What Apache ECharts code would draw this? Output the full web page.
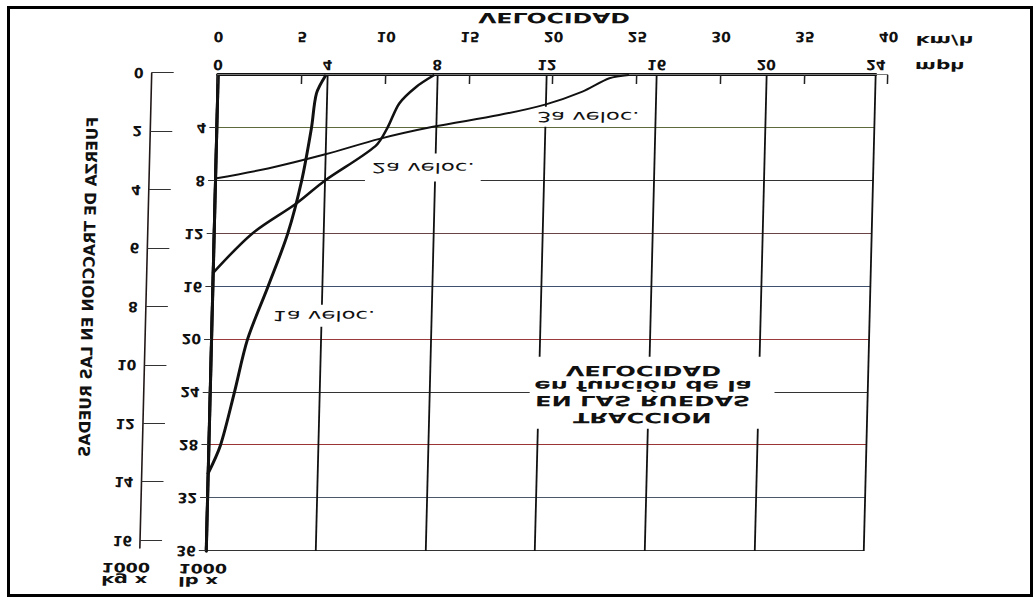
<!DOCTYPE html>
<html>
<head>
<meta charset="utf-8">
<title>Traccion en las ruedas</title>
<script src="https://cdn.jsdelivr.net/npm/echarts@6/dist/echarts.min.js"></script>
<style>
html, body { margin: 0; padding: 0; background: #fff; }
/* the scan is printed upside down and slightly sheared */
#chart { position: absolute; left: 0; top: 0; width: 1035px; height: 603px;
  transform: scaleY(-1) skewX(1.43deg); transform-origin: 50% 50%; }
#frame { position: absolute; left: 7px; top: 6px; width: 1026px; height: 591px;
  border: 3px solid #000; box-sizing: border-box; pointer-events: none; }
</style>
</head>
<body>
<div id="chart"></div>
<div id="frame"></div>
<script>
const mphTicks = [0, 4, 8, 12, 16, 20, 24];
const kmhTicks = [0, 5, 10, 15, 20, 25, 30, 35, 40];
const lbTicks = [0, 4, 8, 12, 16, 20, 24, 28, 32, 36];
const kgTicks = [0, 2, 4, 6, 8, 10, 12, 14, 16];
const gearNames = ['1a veloc.', '2a veloc.', '3a veloc.'];
// [mph, lb x 1000]
const gear1 = [[0, 30.2], [0.44, 28], [0.9, 24], [1.33, 20], [2.03, 16], [2.7, 12], [3.16, 8], [3.47, 4], [3.62, 1.4], [3.95, 0]];
const gear2 = [[0, 15], [1.4, 12], [3.0, 9.7], [4, 8], [5.82, 5.38], [6.24, 4], [6.65, 2.15], [7.25, 0.9], [7.9, 0]];
const gear3 = [[0, 7.83], [1.92, 7.07], [4, 6.0], [5.96, 4.83], [7.9, 3.92], [10.3, 3.03], [12, 2.22], [13.32, 1.26], [14.29, 0.25], [15, 0]];
const titleLines = ['TRACCION', 'EN LAS RUEDAS', 'en función de la', 'VELOCIDAD'];

const FONT = 'DejaVu Sans';
const INK = '#111';
const last = a => a[a.length - 1];
const step = a => a[1] - a[0];

const chart = echarts.init(document.getElementById('chart'), null, { renderer: 'svg' });

const tickLabel = { fontFamily: FONT, fontWeight: 'bold', fontSize: 14, color: INK };
const hidden = { show: false };

const option = {
    animation: false,
    backgroundColor: '#fff',
    grid: [
        { left: 212, top: 52, width: 658, height: 476 },  // main plot, mph / lb
        { left: 212, top: 52, width: 670, height: 476 },  // km/h scale
        { left: 146, top: 55, width: 10, height: 475 }    // kg scale
    ],
    xAxis: [
        {
            gridIndex: 0, type: 'value', position: 'bottom',
            min: mphTicks[0], max: last(mphTicks), interval: step(mphTicks),
            axisLine: { lineStyle: { color: '#555', width: 1.2 } },
            axisTick: hidden,
            axisLabel: Object.assign({ margin: 3 }, tickLabel),
            splitLine: { show: true, lineStyle: { color: INK, width: 1.8 } }
        },
        {
            gridIndex: 0, type: 'value', position: 'top',
            min: mphTicks[0], max: last(mphTicks),
            axisLine: { lineStyle: { color: INK, width: 3 } },
            axisTick: hidden, axisLabel: hidden, splitLine: hidden
        },
        {
            gridIndex: 1, type: 'value', position: 'bottom', offset: 28,
            min: kmhTicks[0], max: last(kmhTicks), interval: step(kmhTicks),
            axisLine: { lineStyle: { color: '#777', width: 1.2 } },
            axisTick: { inside: true, length: 9, lineStyle: { color: '#222', width: 1.5 } },
            axisLabel: Object.assign({ margin: 3 }, tickLabel),
            splitLine: hidden
        },
        { gridIndex: 2, type: 'value', min: 0, max: 1, show: false }
    ],
    yAxis: [
        {
            gridIndex: 0, type: 'value', position: 'left',
            min: lbTicks[0], max: last(lbTicks), interval: step(lbTicks),
            axisLine: { show: true, lineStyle: { color: INK, width: 3 } },
            axisTick: { show: true, length: 7, lineStyle: { color: '#333', width: 1 } },
            axisLabel: Object.assign({ margin: 10, showMinLabel: false }, tickLabel),
            splitLine: {
                show: true,
                lineStyle: {
                    width: 1.1,
                    color: ['#333', '#5d6a3c', '#333', '#6a4444', '#3f4f6e', '#9a3a3a', '#333', '#9a3535', '#4a586a', '#333']
                }
            }
        },
        {
            gridIndex: 0, type: 'value', position: 'right',
            min: lbTicks[0], max: last(lbTicks),
            axisLine: { show: true, lineStyle: { color: INK, width: 3 } },
            axisTick: hidden, axisLabel: hidden, splitLine: hidden
        },
        { gridIndex: 1, type: 'value', min: 0, max: 1, show: false },
        {
            gridIndex: 2, type: 'value', position: 'left',
            min: kgTicks[0], max: last(kgTicks) + 0.25,
            axisLine: { show: true, lineStyle: { color: '#221818', width: 1.6 } },
            axisTick: { show: true, inside: true, length: 22, customValues: kgTicks, lineStyle: { color: '#333', width: 1.2 } },
            axisLabel: Object.assign({ margin: 8, customValues: kgTicks }, tickLabel),
            splitLine: hidden
        }
    ],
    series: [gear1, gear2, gear3].map((d, i) => ({
        name: gearNames[i],
        type: 'line',
        xAxisIndex: 0,
        yAxisIndex: 0,
        data: d,
        smooth: 0.3,
        symbol: 'none',
        silent: true,
        z: 3,
        lineStyle: { color: INK, width: [3, 2.6, 2][i] }
    }))
};
chart.setOption(option);

// stretched lettering of the original drawing
function wide(x, y, text, size, weight, sx, align, extra) {
    return Object.assign({
        type: 'text', x: x, y: y, z: 1, silent: true, scaleX: sx,
        style: {
            text: text, fill: INK, fontFamily: FONT, fontSize: size, fontWeight: weight,
            align: align || 'center', verticalAlign: 'middle'
        }
    }, extra || {});
}

function decorate() {
    const P = v => chart.convertToPixel({ seriesIndex: 0 }, v);
    const kmhX = v => chart.convertToPixel({ xAxisIndex: 2 }, v);
    const kgY = v => chart.convertToPixel({ yAxisIndex: 3 }, v);
    const kgX = chart.convertToPixel({ xAxisIndex: 3 }, 0);
    const o = P([0, 0]);
    const top = P([0, last(lbTicks)]);
    const els = [];

    els.push(wide(kmhX(20), o[1] + 57, 'VELOCIDAD', 14, 'bold', 1.68));
    els.push(wide(kmhX(last(kmhTicks)) + 27, o[1] + 35, 'km/h', 13, 'bold', 1.6, 'left'));
    els.push(wide(kmhX(last(kmhTicks)) + 27, o[1] + 8, 'mph', 13, 'bold', 1.55, 'left'));

    els.push(wide(kgX - 58, kgY(8) + 20, 'FUERZA DE TRACCION EN LAS RUEDAS', 15.7, 'bold', 1, 'center', { rotation: Math.PI / 2 }));

    els.push(wide(kgX - 38, kgY(last(kgTicks)) - 27, '1000', 13, 'bold', 1.35, 'left'));
    els.push(wide(kgX - 38, kgY(last(kgTicks)) - 40, 'kg x', 13, 'bold', 1.5, 'left'));
    els.push(wide(o[0] - 27, top[1] - 17, '1000', 13, 'bold', 1.35, 'left'));
    els.push(wide(o[0] - 27, top[1] - 30, 'lb x', 13, 'bold', 1.5, 'left'));

    // curve names, with the white gap they cut in the grid
    const tags = [
        { at: [4.09, 18.2], pad: [5, 3, 3, 3] },
        { at: [7.58, 7.0], pad: [4, 4, 10, 4] },
        { at: [13.55, 3.16], pad: [3, 3, 3, 3] }
    ];
    tags.forEach((t, i) => {
        const p = P(t.at);
        const el = wide(p[0], p[1], gearNames[i], 14, 'normal', 1.62);
        el.style.backgroundColor = '#fff';
        el.style.padding = t.pad;
        els.push(el);
    });

    // centre title block
    const a = P([11.67, 26.76]), b = P([20.6, 21.3]);
    els.push({ type: 'rect', z: 1, silent: true,
        shape: { x: a[0], y: a[1], width: b[0] - a[0], height: b[1] - a[1] },
        style: { fill: '#fff' } });
    const rows = [25.93, 24.64, 23.5, 22.37];
    titleLines.forEach((s, i) => {
        const p = P([15.8, rows[i]]);
        els.push(wide(p[0], p[1], s, 14, 'bold', 1.72));
    });

    chart.setOption({ graphic: els });
}
decorate();
</script>
</body>
</html>
